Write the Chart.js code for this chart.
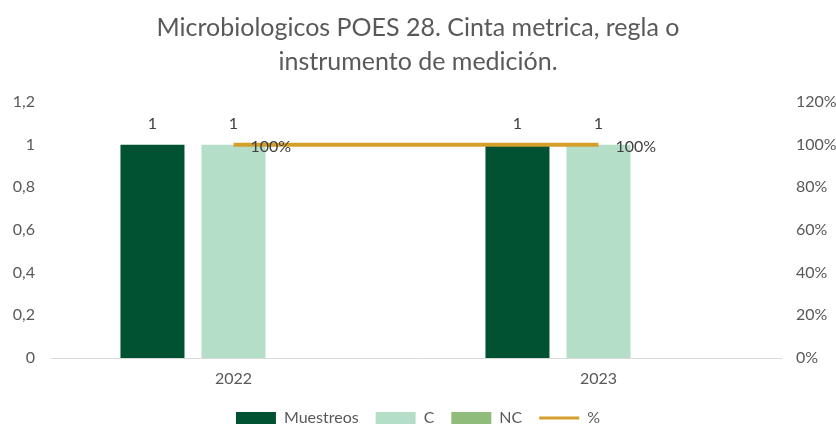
<!DOCTYPE html>
<html>
<head>
<meta charset="utf-8">
<script src="https://cdn.jsdelivr.net/npm/chart.js@4.4.1/dist/chart.umd.min.js"></script>
<style>
  html, body { margin: 0; padding: 0; background: #fff; }
  #wrap { width: 836px; height: 444px; }
</style>
</head>
<body>
<div id="wrap"><canvas id="chart" width="836" height="444"></canvas></div>
<script>
// data
var years = ['2022', '2023'];
var muestreos = [1, 1];
var conformes = [1, 1];
var noConformes = [null, null];
var porcentaje = [100, 100];

var leftTicks = [0, 0.2, 0.4, 0.6, 0.8, 1, 1.2];
var rightTicks = [0, 20, 40, 60, 80, 100, 120];

var grey = '#595959';
var font = 'Lato, "Open Sans", sans-serif';

// draws the value labels like in the excel chart
var valueLabels = {
    id: 'valueLabels',
    afterDatasetsDraw: function (chart) {
        var ctx = chart.ctx;
        ctx.save();
        ctx.font = '16px ' + font;
        ctx.fillStyle = '#404040';
        ctx.textBaseline = 'middle';
        chart.data.datasets.forEach(function (ds, i) {
            var meta = chart.getDatasetMeta(i);
            meta.data.forEach(function (el, j) {
                var v = ds.data[j];
                if (v === null || v === undefined) return;
                if (ds.type === 'line') {
                    ctx.textAlign = 'left';
                    ctx.fillText(v + '%', el.x + 17, el.y + 2);
                } else {
                    ctx.textAlign = 'center';
                    ctx.fillText(String(v).replace('.', ','), el.x, el.y - 21);
                }
            });
        });
        ctx.restore();
    }
};

var ctx = document.getElementById('chart');

var chart = new Chart(ctx, {
    type: 'bar',
    data: {
        labels: years,
        datasets: [
            {
                label: 'Muestreos',
                data: muestreos,
                backgroundColor: '#005232',
                yAxisID: 'y',
                order: 1
            },
            {
                label: 'C',
                data: conformes,
                backgroundColor: '#b5dec9',
                yAxisID: 'y',
                order: 1
            },
            {
                label: 'NC',
                data: noConformes,
                backgroundColor: '#8fbc7a',
                yAxisID: 'y',
                order: 1
            },
            {
                type: 'line',
                label: '%',
                data: porcentaje,
                borderColor: '#d49f2a',
                backgroundColor: '#d49f2a',
                borderWidth: 4,
                pointRadius: 0,
                yAxisID: 'y1',
                order: 0
            }
        ]
    },
    options: {
        responsive: false,
        animation: false,
        layout: { padding: { top: 0, bottom: 8, left: 0, right: 0 } },
        datasets: {
            bar: { categoryPercentage: 0.666, barPercentage: 0.79 }
        },
        plugins: {
            title: {
                display: true,
                text: ['Microbiologicos POES 28. Cinta metrica, regla o', 'instrumento de medición.'],
                color: grey,
                font: { family: font, size: 25, weight: 'normal', lineHeight: 1.36 },
                padding: { top: 11, bottom: 23 }
            },
            legend: {
                position: 'bottom',
                sort: function (a, b) { return a.datasetIndex - b.datasetIndex; },
                labels: {
                    color: grey,
                    font: { family: font, size: 16 },
                    usePointStyle: true,
                    pointStyleWidth: 40,
                    boxHeight: 12,
                    padding: 17,
                    generateLabels: function (chart) {
                        return chart.data.datasets.map(function (ds, i) {
                            var isLine = ds.type === 'line';
                            return {
                                text: ds.label,
                                datasetIndex: i,
                                fillStyle: ds.backgroundColor,
                                strokeStyle: isLine ? ds.borderColor : ds.backgroundColor,
                                lineWidth: isLine ? 3 : 0,
                                pointStyle: isLine ? 'line' : 'rect',
                                fontColor: grey,
                                hidden: false
                            };
                        });
                    }
                }
            },
            tooltip: { enabled: false }
        },
        scales: {
            x: {
                grid: { display: false, drawTicks: false },
                border: { display: true, color: '#d9d9d9', width: 1 },
                ticks: { color: grey, font: { family: font, size: 16 }, padding: 11 },
                afterFit: function (s) { s.height = 35; }
            },
            y: {
                position: 'left',
                min: 0,
                max: 1.2,
                afterBuildTicks: function (s) { s.ticks = leftTicks.map(function (v) { return { value: v }; }); },
                grid: { display: false, drawTicks: false },
                border: { display: false },
                ticks: {
                    color: grey,
                    font: { family: font, size: 16 },
                    padding: 16,
                    callback: function (v) { return String(Math.round(v * 10) / 10).replace('.', ','); }
                },
                afterFit: function (s) { s.width = 51; }
            },
            y1: {
                position: 'right',
                min: 0,
                max: 120,
                afterBuildTicks: function (s) { s.ticks = rightTicks.map(function (v) { return { value: v }; }); },
                grid: { display: false, drawTicks: false },
                border: { display: false },
                ticks: {
                    color: grey,
                    font: { family: font, size: 16 },
                    padding: 15,
                    callback: function (v) { return v + '%'; }
                },
                afterFit: function (s) { s.width = 55; }
            }
        }
    },
    plugins: [valueLabels]
});
</script>
</body>
</html>
